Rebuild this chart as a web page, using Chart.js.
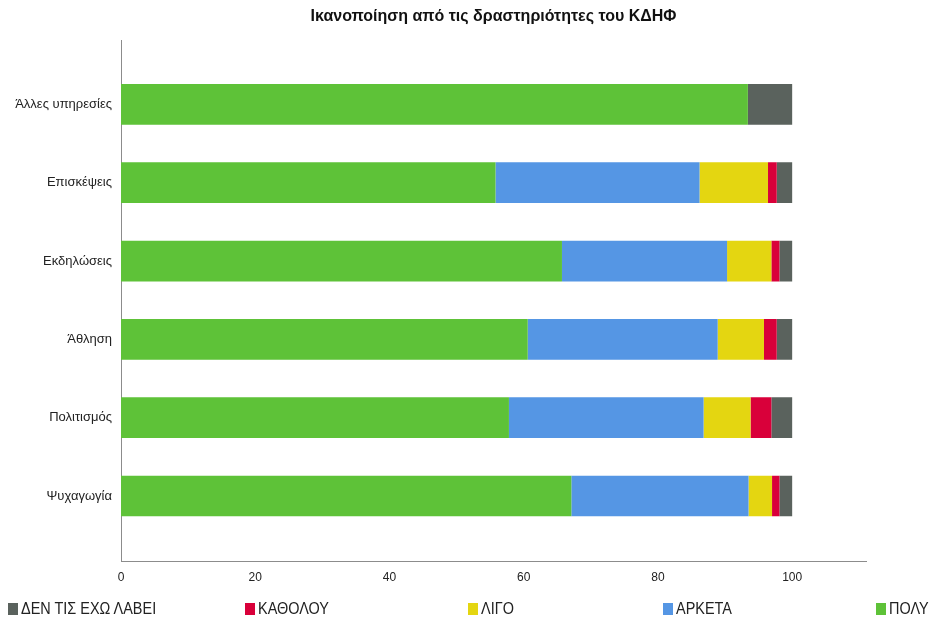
<!DOCTYPE html>
<html>
<head>
<meta charset="utf-8">
<script src="https://cdn.jsdelivr.net/npm/chart.js@4.4.1/dist/chart.umd.min.js"></script>
<style>
  body { margin: 0; background: #fff; }
  #wrap { position: relative; width: 933px; height: 618px; }
  #legend {
    position: absolute; left: 0; top: 599px; width: 933px; height: 18px;
    font-family: 'Liberation Sans Narrow', 'Liberation Sans', sans-serif;
    font-size: 15px; color: #222;
  }
  #legend .item { position: absolute; top: 0; display: flex; align-items: center; white-space: nowrap; }
  #legend .item:nth-child(1) { left: 8px; }
  #legend .item:nth-child(2) { left: 245px; }
  #legend .item:nth-child(3) { left: 468px; }
  #legend .item:nth-child(4) { left: 663px; }
  #legend .item:nth-child(5) { left: 876px; }
  #legend .box { width: 10px; height: 12px; margin-right: 3px; }
  #legend .txt { display: inline-block; transform: scaleX(0.85); transform-origin: left center; font-size: 17px; }
</style>
</head>
<body>
<div id="wrap">
  <canvas id="chart"></canvas>
  <div id="legend"></div>
</div>
<script>
// κατηγορίες (από πάνω προς τα κάτω)
const categories = ['Άλλες υπηρεσίες', 'Επισκέψεις', 'Εκδηλώσεις', 'Άθληση', 'Πολιτισμός', 'Ψυχαγωγία']

// ποσοστά ανά απάντηση
const poly = [93.4, 55.8, 65.7, 60.6, 57.8, 67.1]
const arketa = [0, 30.4, 24.6, 28.3, 29.0, 26.4]
const ligo = [0, 10.2, 6.6, 6.9, 7.0, 3.5]
const katholou = [0, 1.3, 1.2, 1.9, 3.1, 1.1]
const denLavei = [6.6, 2.3, 1.9, 2.3, 3.1, 1.9]

const xTicks = [0, 20, 40, 60, 80, 100]

const font = "'Liberation Sans', Arial, sans-serif"

function points(values) {
  return values.map((v, i) => ({ x: v, y: i }))
}

// html legend, σε αντίστροφη σειρά όπως στο πρωτότυπο
const htmlLegend = {
  id: 'htmlLegend',
  afterUpdate(chart) {
    const box = document.getElementById('legend')
    box.innerHTML = ''
    const items = chart.options.plugins.legend.labels.generateLabels(chart).reverse()
    items.forEach(item => {
      const el = document.createElement('div')
      el.className = 'item'
      el.innerHTML = `<span class="box" style="background:${item.fillStyle}"></span><span class="txt">${item.text}</span>`
      box.appendChild(el)
    })
  }
}

new Chart(document.getElementById('chart'), {
  type: 'bar',
  data: {
    datasets: [
      { label: 'ΠΟΛΥ', data: points(poly), backgroundColor: '#5ec238' },
      { label: 'ΑΡΚΕΤΑ', data: points(arketa), backgroundColor: '#5596e4' },
      { label: 'ΛΙΓΟ', data: points(ligo), backgroundColor: '#e4d611' },
      { label: 'ΚΑΘΟΛΟΥ', data: points(katholou), backgroundColor: '#d9003a' },
      { label: 'ΔΕΝ ΤΙΣ ΕΧΩ ΛΑΒΕΙ', data: points(denLavei), backgroundColor: '#5a625d' },
    ]
  },
  options: {
    indexAxis: 'y',
    responsive: true,
    maintainAspectRatio: false,
    animation: false,
    barPercentage: 0.52,
    categoryPercentage: 1,
    layout: { padding: { left: 0, right: 67, top: 0, bottom: 0 } },
    scales: {
      x: {
        type: 'linear',
        stacked: true,
        min: 0,
        max: 111,
        grid: { display: false, drawTicks: false },
        border: { display: true, color: '#8c8c8c', width: 1 },
        afterBuildTicks: scale => { scale.ticks = xTicks.map(v => ({ value: v })) },
        afterFit: scale => { scale.height = 57 },
        ticks: { padding: 9, color: '#222', font: { family: font, size: 12 } }
      },
      y: {
        type: 'linear',
        stacked: true,
        reverse: true,
        offset: false,
        min: -0.82,
        max: 5.83,
        grid: { display: false, drawTicks: false, offset: false },
        border: { display: true, color: '#8c8c8c', width: 1 },
        afterBuildTicks: scale => { scale.ticks = categories.map((c, i) => ({ value: i })) },
        afterFit: scale => { scale.width = 121 },
        ticks: {
          padding: 9,
          color: '#222',
          font: { family: font, size: 13 },
          callback: v => categories[v]
        }
      }
    },
    plugins: {
      legend: { display: false },
      tooltip: { enabled: false },
      title: {
        display: true,
        fullSize: false,
        text: 'Ικανοποίηση από τις δραστηριότητες του ΚΔΗΦ',
        color: '#111',
        font: { family: font, size: 16, weight: 'bold' },
        padding: { top: 7, bottom: 14 }
      }
    }
  },
  plugins: [htmlLegend]
})
</script>
</body>
</html>
